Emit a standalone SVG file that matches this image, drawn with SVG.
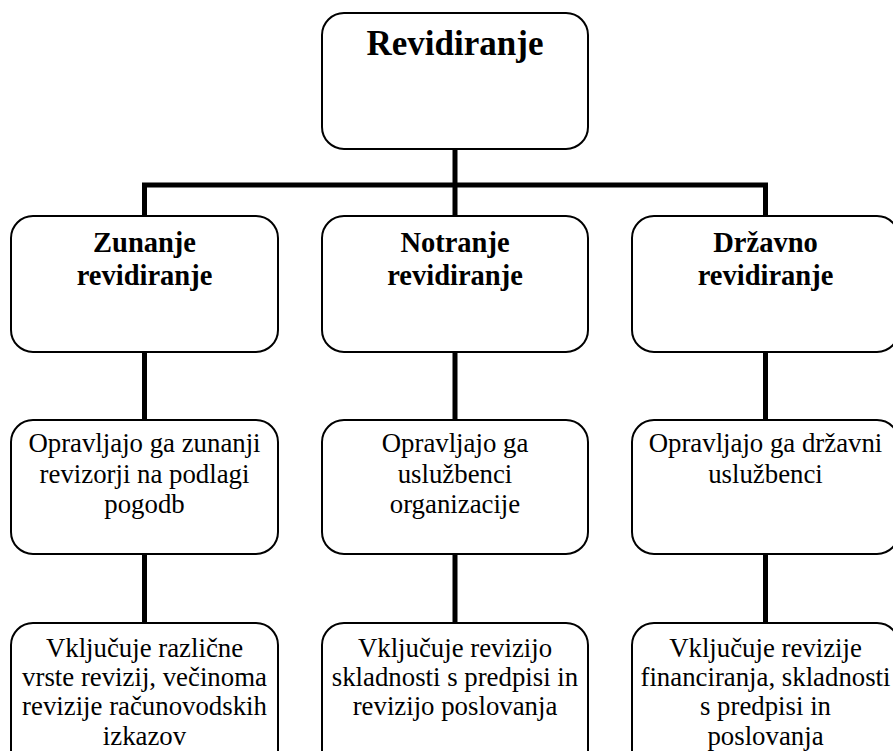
<svg xmlns="http://www.w3.org/2000/svg" width="893" height="751" viewBox="0 0 893 751">
<style>
.box{fill:#fff;stroke:#000;stroke-width:2}
.con{fill:none;stroke:#000;stroke-width:5;stroke-linecap:butt}
text{font-family:"Liberation Serif","Times New Roman",serif;fill:#000;text-anchor:middle}
.title{font-size:35px;font-weight:bold}
.head{font-size:28.5px;font-weight:bold}
.body{font-size:26.8px}
</style>
<rect width="893" height="751" fill="#fff"/>
<g id="connectors">
<path class="con" d="M455 149V185"/>
<path class="con" d="M142 185H768"/>
<path class="con" d="M144.5 183V216M455 185V216M765.5 183V216"/>
<path class="con" d="M144.5 352V420M455 352V420M765.5 352V420"/>
<path class="con" d="M144.5 554V623M455 554V623M765.5 554V623"/>
</g>
<g id="n-revidiranje">
<rect class="box" x="322" y="13" width="266" height="136" rx="22"/>
<text class="title" x="455" y="55">Revidiranje</text>
</g>
<g id="n-zunanje">
<rect class="box" x="11" y="216" width="267" height="136" rx="22"/>
<text class="head" x="144.5" y="252">Zunanje</text>
<text class="head" x="144.5" y="285">revidiranje</text>
</g>
<g id="n-notranje">
<rect class="box" x="322" y="216" width="266" height="136" rx="22"/>
<text class="head" x="455" y="252">Notranje</text>
<text class="head" x="455" y="285">revidiranje</text>
</g>
<g id="n-drzavno">
<rect class="box" x="632" y="216" width="267" height="136" rx="22"/>
<text class="head" x="765.5" y="252">Državno</text>
<text class="head" x="765.5" y="285">revidiranje</text>
</g>
<g id="n-zunanje-izvaja">
<rect class="box" x="11" y="420" width="267" height="134" rx="22"/>
<text class="body" x="144.5" y="452">Opravljajo ga zunanji</text>
<text class="body" x="144.5" y="483">revizorji na podlagi</text>
<text class="body" x="144.5" y="513">pogodb</text>
</g>
<g id="n-notranje-izvaja">
<rect class="box" x="322" y="420" width="266" height="134" rx="22"/>
<text class="body" x="455" y="452">Opravljajo ga</text>
<text class="body" x="455" y="483">uslužbenci</text>
<text class="body" x="455" y="513">organizacije</text>
</g>
<g id="n-drzavno-izvaja">
<rect class="box" x="632" y="420" width="267" height="134" rx="22"/>
<text class="body" x="765.5" y="452">Opravljajo ga državni</text>
<text class="body" x="765.5" y="483">uslužbenci</text>
</g>
<g id="n-zunanje-vkljucuje">
<rect class="box" x="11" y="623" width="267" height="150" rx="22"/>
<text class="body" x="144.5" y="657">Vključuje različne</text>
<text class="body" x="144.5" y="686">vrste revizij, večinoma</text>
<text class="body" x="144.5" y="715">revizije računovodskih</text>
<text class="body" x="144.5" y="745">izkazov</text>
</g>
<g id="n-notranje-vkljucuje">
<rect class="box" x="322" y="623" width="266" height="150" rx="22"/>
<text class="body" x="455" y="657">Vključuje revizijo</text>
<text class="body" x="455" y="686">skladnosti s predpisi in</text>
<text class="body" x="455" y="715">revizijo poslovanja</text>
</g>
<g id="n-drzavno-vkljucuje">
<rect class="box" x="632" y="623" width="267" height="150" rx="22"/>
<text class="body" x="765.5" y="657">Vključuje revizije</text>
<text class="body" x="765.5" y="686">financiranja, skladnosti</text>
<text class="body" x="765.5" y="715">s predpisi in</text>
<text class="body" x="765.5" y="745">poslovanja</text>
</g>
</svg>
